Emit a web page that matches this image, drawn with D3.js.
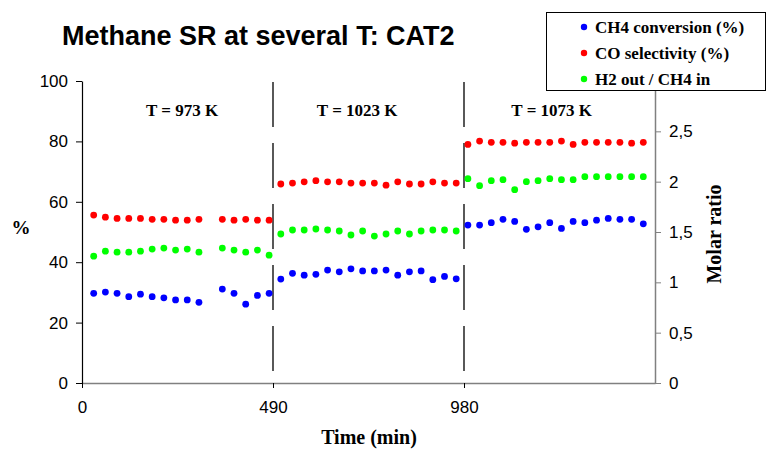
<!DOCTYPE html>
<html>
<head>
<meta charset="utf-8">
<script src="https://cdn.jsdelivr.net/npm/d3@7"></script>
<style>
  body { margin: 0; background: #fff; }
  svg { display: block; }
  .serif { font-family: "Liberation Serif", "Times New Roman", serif; font-weight: bold; }
  .sans { font-family: "Liberation Sans", Arial, sans-serif; }
</style>
</head>
<body>
<div id="chart"></div>
<script>
const WIDTH = 767;
const HEIGHT = 450;

// time (min) of each sample, three temperature stages
const times = [
  30, 60, 90, 120, 150, 180, 210, 240, 270, 300, 360, 390, 420, 450, 480,
  510, 540, 570, 600, 630, 660, 690, 720, 750, 780, 810, 840, 870, 900, 930, 960,
  990, 1020, 1050, 1080, 1110, 1140, 1170, 1200, 1230, 1260, 1290, 1320, 1350, 1380, 1410, 1440
];

const ch4Conversion = [
  29.7, 30.1, 29.7, 28.6, 29.4, 28.6, 28.2, 27.5, 27.5, 26.7, 31.1, 29.7, 26.1, 29.0, 29.7,
  34.4, 36.3, 35.7, 36.0, 37.4, 36.8, 37.8, 37.1, 37.1, 37.4, 35.7, 36.8, 37.1, 34.2, 35.3, 34.5,
  52.3, 52.3, 53.1, 54.2, 53.5, 50.9, 51.7, 53.1, 51.2, 53.5, 53.1, 53.9, 54.5, 54.2, 54.2, 52.7
];

const coSelectivity = [
  55.6, 54.9, 54.5, 54.5, 54.5, 54.2, 54.2, 53.9, 53.9, 54.2, 54.2, 53.9, 54.2, 53.9, 53.9,
  65.9, 66.2, 66.6, 67.0, 66.6, 66.6, 66.2, 66.2, 66.2, 65.5, 66.6, 65.9, 65.9, 66.6, 66.2, 66.2,
  79.0, 80.1, 79.7, 79.7, 79.4, 79.7, 79.7, 79.7, 80.1, 79.0, 79.7, 79.7, 79.7, 79.7, 79.4, 79.7
];

// molar ratio, right axis
const h2PerCh4 = [
  1.26, 1.31, 1.30, 1.30, 1.31, 1.33, 1.34, 1.32, 1.33, 1.30, 1.34, 1.32, 1.30, 1.32, 1.27,
  1.48, 1.52, 1.52, 1.53, 1.52, 1.51, 1.47, 1.51, 1.46, 1.48, 1.51, 1.48, 1.51, 1.52, 1.52, 1.51,
  2.03, 1.96, 2.01, 2.02, 1.92, 2.00, 2.01, 2.03, 2.02, 2.02, 2.05, 2.05, 2.05, 2.05, 2.05, 2.05
];

const xTicks = [0, 490, 980];
const leftTicks = [0, 20, 40, 60, 80, 100];
const rightTicks = [0, 0.5, 1, 1.5, 2, 2.5];
const stageBreaks = [490, 980];
const stageLabels = ["T = 973 K", "T = 1023 K", "T = 1073 K"];
const stageLabelTimes = [257, 706, 1205];

const series = [
  { name: "CH4 conversion (%)", values: ch4Conversion, color: "#0000ff", axis: "left" },
  { name: "CO selectivity (%)", values: coSelectivity, color: "#ff0000", axis: "left" },
  { name: "H2 out / CH4 in", values: h2PerCh4, color: "#00ff00", axis: "right" }
];

const plot = { left: 82, right: 655, top: 81, bottom: 383 };

const svg = d3.select("#chart")
  .append("svg")
  .attr("width", WIDTH)
  .attr("height", HEIGHT);

const x = d3.scaleLinear().domain([0, 1470]).range([plot.left, plot.right]);
const yLeft = d3.scaleLinear().domain([0, 100]).range([plot.bottom, plot.top]);
const yRight = d3.scaleLinear().domain([0, 3]).range([plot.bottom, plot.top]);

// title
svg.append("text")
  .attr("class", "sans")
  .attr("x", 62)
  .attr("y", 45)
  .attr("font-size", 27)
  .attr("font-weight", "bold")
  .text("Methane SR at several T: CAT2");

// stage separators
svg.append("g")
  .selectAll("line")
  .data(stageBreaks)
  .join("line")
  .attr("x1", (d) => x(d))
  .attr("x2", (d) => x(d))
  .attr("y1", 82)
  .attr("y2", plot.bottom)
  .attr("stroke", "#000")
  .attr("stroke-width", 1.3)
  .attr("stroke-dasharray", "45,16");

svg.append("g")
  .selectAll("text")
  .data(stageLabels)
  .join("text")
  .attr("class", "serif")
  .attr("x", (d, i) => x(stageLabelTimes[i]))
  .attr("y", 116)
  .attr("text-anchor", "middle")
  .attr("font-size", 17)
  .text((d) => d);

// axes
const xAxis = svg.append("g")
  .attr("transform", `translate(0,${plot.bottom})`)
  .call(d3.axisBottom(x).tickValues(xTicks).tickSize(5).tickPadding(13).tickSizeOuter(0));
xAxis.select(".domain").attr("stroke", "#808080").attr("stroke-width", 1.5);
xAxis.selectAll(".tick line").attr("stroke", "#000");

const leftAxis = svg.append("g")
  .attr("transform", `translate(${plot.left},0)`)
  .call(d3.axisLeft(yLeft).tickValues(leftTicks).tickSize(6).tickPadding(8).tickSizeOuter(0));
leftAxis.select(".domain").attr("stroke", "#000").attr("stroke-width", 1.2);

const rightAxis = svg.append("g")
  .attr("transform", `translate(${plot.right},0)`)
  .call(d3.axisRight(yRight).tickValues(rightTicks).tickSize(6).tickPadding(8).tickSizeOuter(0)
    .tickFormat((d) => String(d).replace(".", ",")));
rightAxis.select(".domain").attr("stroke", "#808080").attr("stroke-width", 1.5);
rightAxis.selectAll(".tick line").attr("stroke", "#808080");

svg.selectAll(".tick text")
  .attr("class", "sans")
  .attr("font-size", 17)
  .attr("fill", "#000");

// axis titles
svg.append("text")
  .attr("class", "serif")
  .attr("x", 21)
  .attr("y", 234)
  .attr("text-anchor", "middle")
  .attr("font-size", 19)
  .text("%");

svg.append("text")
  .attr("class", "serif")
  .attr("x", 369)
  .attr("y", 444)
  .attr("text-anchor", "middle")
  .attr("font-size", 20)
  .text("Time (min)");

svg.append("text")
  .attr("class", "serif")
  .attr("transform", "translate(721,234) rotate(-90)")
  .attr("text-anchor", "middle")
  .attr("font-size", 20)
  .text("Molar ratio");

// points
series.forEach((s) => {
  const y = s.axis === "left" ? yLeft : yRight;
  svg.append("g")
    .selectAll("circle")
    .data(s.values)
    .join("circle")
    .attr("cx", (d, i) => x(times[i]))
    .attr("cy", (d) => y(d))
    .attr("r", 3.4)
    .attr("fill", s.color);
});

// legend
const legend = svg.append("g");
legend.append("rect")
  .attr("x", 546.5)
  .attr("y", 12.5)
  .attr("width", 219)
  .attr("height", 78)
  .attr("fill", "#fff")
  .attr("stroke", "#000")
  .attr("stroke-width", 1);

const rows = legend.selectAll("g")
  .data(series)
  .join("g")
  .attr("transform", (d, i) => `translate(584,${27 + i * 26})`);

rows.append("circle")
  .attr("r", 3.2)
  .attr("fill", (d) => d.color);

rows.append("text")
  .attr("class", "serif")
  .attr("x", 11)
  .attr("y", 6)
  .attr("font-size", 17)
  .text((d) => d.name);
</script>
</body>
</html>
